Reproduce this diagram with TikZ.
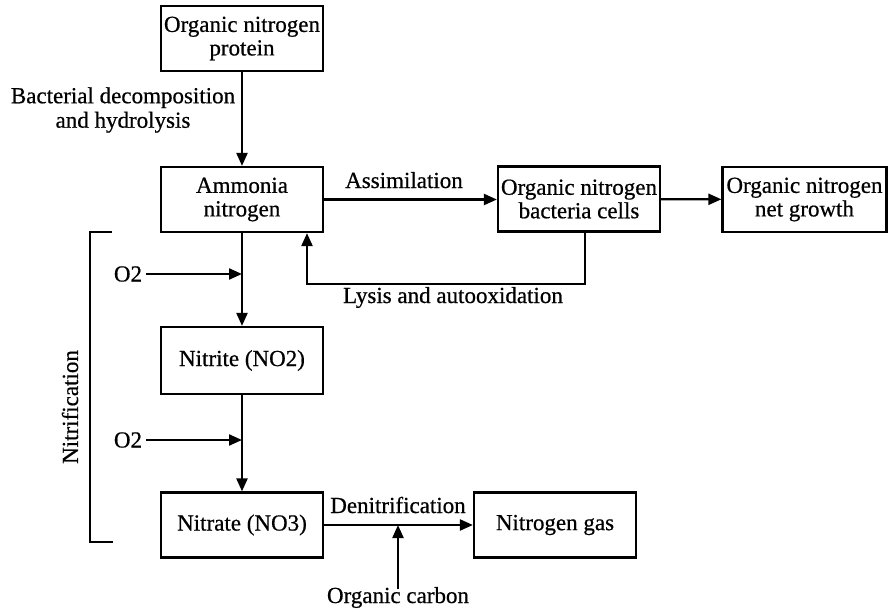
\documentclass[tikz,border=0pt]{standalone}
\usepackage{fontspec}
\setmainfont{Liberation Serif}
\newfontfamily\diagfont{Liberation Serif}[FakeBold=0.6]
\usetikzlibrary{arrows.meta}
\begin{document}
\begin{tikzpicture}[x=1pt,y=-1pt,
  box/.style={draw,line width=2.2pt,minimum width=162pt,minimum height=65pt,align=center,inner sep=0pt,font=\diagfont\fontsize{23}{23.5}\selectfont},
  lbl/.style={font=\diagfont\fontsize{23}{24.5}\selectfont,inner sep=0pt,align=center},
  conn/.style={line width=2.2pt},
  arr/.style={conn,-{Triangle[length=13pt,width=11pt]}}]
\useasboundingbox[fill=white] (0,0) rectangle (889,613);

% boxes
\node[box] (protein) at (242,38.5) {Organic nitrogen\\protein};
\node[box] (ammonia) at (242,199.5) {Ammonia\\nitrogen};
\node[box] (bacteria) at (579,199) {Organic nitrogen\\bacteria cells};
\node[box,minimum width=164pt] (net) at (804.5,199.5) {Organic nitrogen\\net growth};
\node[box,minimum height=67pt] (nitrite) at (242,360.5) {Nitrite (NO2)};
\node[box] (nitrate) at (242,525) {Nitrate (NO3)};
\node[box] (gas) at (555,525) {Nitrogen gas};

% labels
\node[lbl] (decomp) at (123,110) {Bacterial decomposition\\and hydrolysis};
\node[lbl,anchor=base] (assim) at (404,188) {Assimilation};
\node[lbl,anchor=base] (lysis) at (453,303) {Lysis and autooxidation};
\node[lbl] (oxa) at (128,274) {O2};
\node[lbl] (oxb) at (128,440) {O2};
\node[lbl,anchor=base] (denit) at (398,513) {Denitrification};
\node[lbl,anchor=base] (carbon) at (398,603) {Organic carbon};
\node[lbl,rotate=90] (nitrif) at (70,407) {Nitrification};

% connectors
\draw[arr] (protein) -- (ammonia);
\draw[arr] (ammonia.east) -- (bacteria.west |- ammonia.east);
\draw[arr] (bacteria) -- (net);
\coordinate (lysR) at (585,284);
\coordinate (lysL) at (307,284);
\draw[arr] (bacteria.south -| lysR) -- (lysR) -- (lysL) -- (ammonia.south -| lysL);
\draw[arr] (ammonia) -- (nitrite);
\draw[arr] ([xshift=4pt]oxa.east) -- (oxa.east -| ammonia.south);
\draw[arr] (nitrite) -- (nitrate);
\draw[arr] ([xshift=4pt]oxb.east) -- (oxb.east -| nitrite.south);
\draw[arr] (nitrate) -- (gas);
\draw[arr] ([yshift=-2pt]carbon.north) -- (carbon.north |- nitrate.east);

% bracket
\coordinate (brT) at (112,232);
\coordinate (brB) at (113,542);
\draw[conn] (brT) -- (90,232) -- (90,542) -- (brB);
\end{tikzpicture}
\end{document}
